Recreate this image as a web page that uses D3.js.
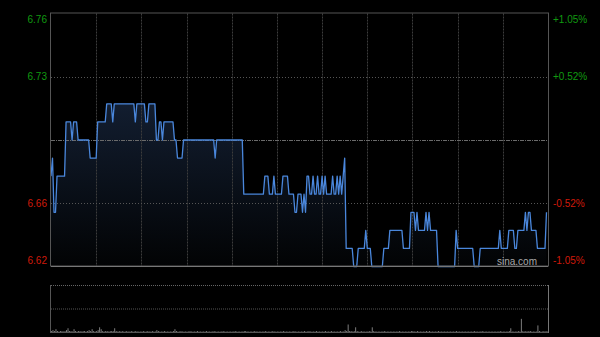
<!DOCTYPE html>
<html>
<head>
<meta charset="utf-8">
<script src="https://cdn.jsdelivr.net/npm/d3@7/dist/d3.min.js"></script>
<style>
body { margin: 0; background: #000; }
svg { display: block; font-family: "Liberation Sans", Arial, sans-serif; }
</style>
</head>
<body>
<div id="chart"></div>
<script>

var prevClose = 6.69
var priceTicks = [6.62, 6.655, 6.69, 6.725, 6.76]
var priceLabels = ["6.62", "6.66", "", "6.73", "6.76"]
var pctLabels = ["-1.05%", "-0.52%", "", "+0.52%", "+1.05%"]
var minuteTicks = [30, 60, 90, 120, 150, 180, 210, 240, 270, 300]

// one price per minute, 330 minutes
var prices = [
  6.67,6.68,6.65,6.65,6.67,6.67,6.67,6.67,6.67,6.67, 6.70,6.70,6.70,6.70,6.69,6.70,6.70,6.70,6.69,6.69, 6.69,6.69,6.69,6.69,6.69,6.69,6.68,6.68,6.68,6.68,
  6.68,6.70,6.70,6.70,6.70,6.70,6.70,6.71,6.71,6.71, 6.71,6.70,6.71,6.71,6.71,6.71,6.71,6.71,6.71,6.71, 6.71,6.71,6.71,6.71,6.71,6.71,6.70,6.71,6.71,6.71,
  6.71,6.71,6.71,6.70,6.70,6.71,6.71,6.71,6.71,6.71, 6.69,6.69,6.70,6.70,6.69,6.70,6.70,6.70,6.70,6.70, 6.70,6.70,6.69,6.69,6.68,6.68,6.68,6.68,6.69,6.69,
  6.69,6.69,6.69,6.69,6.69,6.69,6.69,6.69,6.69,6.69, 6.69,6.69,6.69,6.69,6.69,6.69,6.69,6.69,6.69,6.68, 6.69,6.69,6.69,6.69,6.69,6.69,6.69,6.69,6.69,6.69,
  6.69,6.69,6.69,6.69,6.69,6.69,6.69,6.69,6.66,6.66, 6.66,6.66,6.66,6.66,6.66,6.66,6.66,6.66,6.66,6.66, 6.66,6.66,6.67,6.67,6.67,6.66,6.66,6.66,6.67,6.66,
  6.66,6.66,6.66,6.66,6.67,6.67,6.67,6.67,6.66,6.66, 6.66,6.66,6.65,6.65,6.66,6.66,6.66,6.65,6.66,6.65, 6.67,6.67,6.66,6.66,6.67,6.66,6.66,6.67,6.66,6.66,
  6.67,6.66,6.67,6.66,6.66,6.66,6.66,6.67,6.66,6.66, 6.67,6.66,6.67,6.66,6.67,6.68,6.63,6.63,6.63,6.63, 6.63,6.62,6.62,6.62,6.63,6.63,6.63,6.63,6.63,6.64,
  6.63,6.63,6.63,6.62,6.62,6.62,6.62,6.62,6.62,6.62, 6.62,6.63,6.63,6.63,6.63,6.64,6.64,6.64,6.64,6.64, 6.64,6.64,6.64,6.64,6.63,6.63,6.63,6.63,6.63,6.65,
  6.65,6.65,6.64,6.65,6.64,6.64,6.64,6.64,6.64,6.65, 6.64,6.65,6.64,6.64,6.64,6.64,6.64,6.62,6.62,6.62, 6.62,6.62,6.62,6.62,6.62,6.62,6.62,6.62,6.62,6.64,
  6.63,6.63,6.63,6.63,6.63,6.63,6.63,6.63,6.63,6.63, 6.63,6.62,6.62,6.62,6.62,6.63,6.63,6.63,6.63,6.63, 6.63,6.63,6.63,6.63,6.63,6.63,6.63,6.63,6.64,6.63,
  6.63,6.63,6.63,6.63,6.64,6.64,6.64,6.64,6.63,6.63, 6.64,6.64,6.64,6.64,6.64,6.65,6.64,6.65,6.65,6.64, 6.64,6.64,6.64,6.63,6.63,6.63,6.63,6.63,6.63,6.65
]

var volumes = [
  1,2,1,3,1,0.5,1,1,0.5,1, 2,4,1,1,0.5,3,1,0.5,1,1, 0.5,1,1,0.5,1,2,1,3,1,0.5,
  1,2,5,3,1,0.5,1,1,0.5,1, 1,1,4,1,0.5,1,0.5,1,0.5,0.5, 1,0.5,0.5,1,0.5,0.5,1,0.5,0.5,0.5,
  0.5,1,0.5,0.5,1,0.5,0.5,1,0.5,0.5, 2,1,0.5,0.5,0.5,1,0.5,0.5,0.5,0.5, 0.5,1,3,1,0.5,0.5,1,0.5,0.5,0.5,
  0.5,0.5,1,0.5,0.5,0.5,0.5,1,0.5,0.5, 0.5,0.5,0.5,1,0.5,0.5,0.5,0.5,1,0.5, 0.5,0.5,0.5,0.5,1,0.5,0.5,0.5,0.5,0.5,
  0.5,0.5,1,0.5,0.5,0.5,0.5,0.5,1,1, 0.5,0.5,0.5,0.5,0.5,1,0.5,0.5,0.5,0.5, 0.5,0.5,1,0.5,0.5,0.5,0.5,1,0.5,0.5,
  0.5,0.5,0.5,0.5,1,0.5,0.5,0.5,0.5,0.5, 0.5,1,0.5,0.5,0.5,0.5,0.5,0.5,1,0.5, 0.5,1,0.5,0.5,0.5,0.5,1,0.5,0.5,0.5,
  0.5,0.5,1,0.5,0.5,0.5,1,0.5,0.5,0.5, 0.5,0.5,1,0.5,0.5,2,1,8,1,1, 0.5,1,5,1,0.5,0.5,1,0.5,0.5,0.5,
  0.5,1,0.5,5,1,0.5,0.5,0.5,0.5,0.5, 0.5,1,0.5,0.5,0.5,0.5,0.5,0.5,0.5,0.5, 0.5,1,0.5,0.5,0.5,0.5,0.5,0.5,0.5,1,
  1,0.5,0.5,1,0.5,0.5,0.5,0.5,0.5,1, 0.5,1,0.5,0.5,0.5,0.5,0.5,1,0.5,0.5, 0.5,0.5,0.5,0.5,0.5,0.5,0.5,0.5,0.5,1,
  0.5,0.5,0.5,0.5,0.5,0.5,0.5,0.5,0.5,0.5, 0.5,1,0.5,0.5,0.5,0.5,1,0.5,0.5,0.5, 0.5,0.5,0.5,0.5,0.5,0.5,0.5,0.5,1,0.5,
  0.5,0.5,0.5,0.5,1,4,0.5,0.5,0.5,0.5, 1,0.5,14,1,0.5,1,0.5,1,1,0.5, 0.5,0.5,0.5,7,1,0.5,0.5,1,0.5,1
]

var width = 600, height = 337
var plot = { left: 51, right: 548, top: 13.5, bottom: 266.5 }
var vol = { top: 285, bottom: 332 }

var svg = d3.select("#chart").append("svg")
  .attr("width", width)
  .attr("height", height)

svg.append("rect").attr("width", width).attr("height", height).attr("fill", "#000")

var x = d3.scaleLinear().domain([0, 330]).range([plot.left, plot.right])
var y = d3.scaleLinear().domain([priceTicks[0], priceTicks[4]]).range([plot.bottom, plot.top])
var yVol = d3.scaleLinear().domain([0, 50]).range([vol.bottom, vol.top])

// gradient under the price line
var grad = svg.append("defs").append("linearGradient")
  .attr("id", "fillGrad")
  .attr("gradientUnits", "userSpaceOnUse")
  .attr("x1", 0).attr("y1", plot.top)
  .attr("x2", 0).attr("y2", plot.bottom)
grad.append("stop").attr("offset", "0%").attr("stop-color", "#1b2c48")
grad.append("stop").attr("offset", "100%").attr("stop-color", "#020304")

var area = d3.area()
  .x(function(d, i) { return x(i) })
  .y0(plot.bottom)
  .y1(function(d) { return y(d) })

svg.append("path")
  .datum(prices)
  .attr("d", area)
  .attr("fill", "url(#fillGrad)")

// grid
svg.selectAll(".vgrid")
  .data(minuteTicks)
  .enter().append("line")
  .attr("class", "vgrid")
  .attr("x1", function(d) { return Math.round(x(d)) + 0.5 })
  .attr("x2", function(d) { return Math.round(x(d)) + 0.5 })
  .attr("y1", plot.top)
  .attr("y2", plot.bottom)
  .attr("stroke", "#3c3c3c")
  .attr("stroke-dasharray", "2,1")

svg.selectAll(".hgrid")
  .data(priceTicks.slice(1, 4))
  .enter().append("line")
  .attr("class", "hgrid")
  .attr("x1", plot.left)
  .attr("x2", plot.right)
  .attr("y1", function(d) { return Math.round(y(d)) + 0.5 })
  .attr("y2", function(d) { return Math.round(y(d)) + 0.5 })
  .attr("stroke", function(d) { return d == prevClose ? "#6a6a6a" : "#555" })
  .attr("stroke-dasharray", function(d) { return d == prevClose ? "4,1,1,1" : "1,2" })

// price line
var line = d3.line()
  .x(function(d, i) { return x(i) })
  .y(function(d) { return y(d) })

svg.append("path")
  .datum(prices)
  .attr("d", line)
  .attr("fill", "none")
  .attr("stroke", "#4a87dc")
  .attr("stroke-width", 1.3)
  .attr("stroke-linejoin", "round")

// frame
svg.append("rect")
  .attr("x", plot.left - 0.5)
  .attr("y", plot.top - 0.5)
  .attr("width", plot.right - plot.left + 1)
  .attr("height", plot.bottom - plot.top)
  .attr("fill", "none")
  .attr("stroke", "#555")
svg.append("line")
  .attr("x1", plot.left).attr("x2", plot.right)
  .attr("y1", plot.bottom).attr("y2", plot.bottom)
  .attr("stroke", "#777")

// axes labels
function labelColor(d) {
  return d > prevClose ? "#109a10" : "#d01a0a"
}

function shiftEnds(sel) {
  sel.select(".domain").remove()
  sel.selectAll(".tick text")
    .attr("font-size", 10)
    .attr("font-family", "Liberation Sans, Arial, sans-serif")
    .attr("fill", labelColor)
    .attr("y", function(d, i) { return i == 0 ? -6 : (i == 4 ? 6 : 0) })
}

svg.append("g")
  .attr("transform", "translate(" + plot.left + ",0)")
  .call(d3.axisLeft(y).tickValues(priceTicks).tickSize(0).tickPadding(4)
    .tickFormat(function(d, i) { return priceLabels[i] }))
  .call(shiftEnds)

svg.append("g")
  .attr("transform", "translate(" + plot.right + ",0)")
  .call(d3.axisRight(y).tickValues(priceTicks).tickSize(0).tickPadding(5)
    .tickFormat(function(d, i) { return pctLabels[i] }))
  .call(shiftEnds)

svg.append("text")
  .attr("x", 537)
  .attr("y", 265)
  .attr("text-anchor", "end")
  .attr("font-size", 10)
  .attr("fill", "#a8a8a8")
  .text("sina.com")

// volume panel
svg.append("line")
  .attr("x1", plot.left).attr("x2", plot.right)
  .attr("y1", vol.top + 0.5).attr("y2", vol.top + 0.5)
  .attr("stroke", "#666").attr("stroke-dasharray", "1,1")
svg.append("line")
  .attr("x1", plot.left).attr("x2", plot.right)
  .attr("y1", yVol(25) + 0.5).attr("y2", yVol(25) + 0.5)
  .attr("stroke", "#555").attr("stroke-dasharray", "1,1")

svg.selectAll(".vbar")
  .data(volumes)
  .enter().append("rect")
  .attr("class", "vbar")
  .attr("x", function(d, i) { return x(i) })
  .attr("width", 0.9)
  .attr("y", function(d) { return yVol(d) })
  .attr("height", function(d) { return vol.bottom - yVol(d) })
  .attr("fill", "#8a8a8a")

svg.append("line")
  .attr("x1", plot.left).attr("x2", plot.right)
  .attr("y1", vol.bottom + 0.5).attr("y2", vol.bottom + 0.5)
  .attr("stroke", "#555")
svg.append("line")
  .attr("x1", plot.left - 0.5).attr("x2", plot.left - 0.5)
  .attr("y1", vol.top).attr("y2", vol.bottom + 1)
  .attr("stroke", "#555")
svg.append("line")
  .attr("x1", plot.right + 0.5).attr("x2", plot.right + 0.5)
  .attr("y1", vol.top).attr("y2", vol.bottom + 1)
  .attr("stroke", "#777")

</script>
</body>
</html>
